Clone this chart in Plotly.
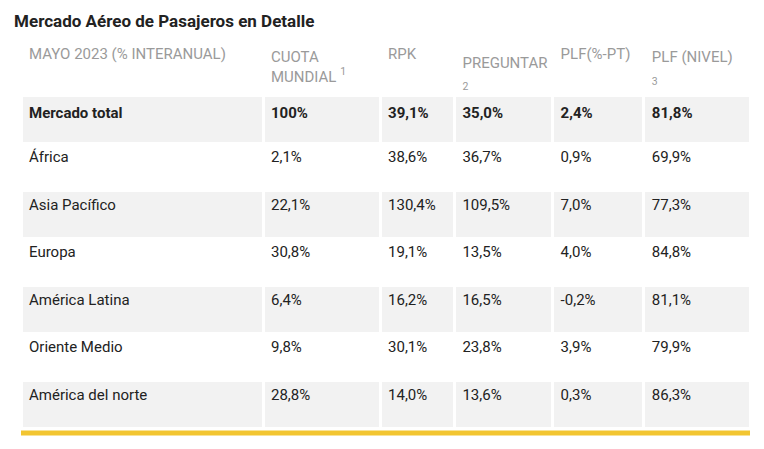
import plotly.graph_objects as go

headers = ["MAYO 2023 (% INTERANUAL)", "CUOTA<br>MUNDIAL <sup>1</sup>", "RPK",
           "PREGUNTAR <sub>2</sub>", "PLF(%-PT)", "PLF (NIVEL)<br><sub>3</sub>"]
regions = ["Mercado total", "África", "Asia Pacífico", "Europa", "América Latina",
           "Oriente Medio", "América del norte"]
cuota = ["100%", "2,1%", "22,1%", "30,8%", "6,4%", "9,8%", "28,8%"]
rpk = ["39,1%", "38,6%", "130,4%", "19,1%", "16,2%", "30,1%", "14,0%"]
ask = ["35,0%", "36,7%", "109,5%", "13,5%", "16,5%", "23,8%", "13,6%"]
plf_pt = ["2,4%", "0,9%", "7,0%", "4,0%", "-0,2%", "3,9%", "0,3%"]
plf_lvl = ["81,8%", "69,9%", "77,3%", "84,8%", "81,1%", "79,9%", "86,3%"]

cols = [regions, cuota, rpk, ask, plf_pt, plf_lvl]
cols = [[f"<b>{c[0]}</b>"] + c[1:] for c in cols]
row_fill = ["#f2f2f2" if i % 2 == 0 else "white" for i in range(len(regions))]

fig = go.Figure(go.Table(
    columnwidth=[244, 118, 75, 99, 92, 107],
    header=dict(values=headers, fill_color="white", line_color="white",
                align="left", height=28,
                font=dict(family="Roboto, Arial", size=15, color="#9a9a9a")),
    cells=dict(values=cols, fill_color=[row_fill] * 6, line=dict(color="white", width=3),
               align="left", height=47.5,
               font=dict(family="Roboto, Arial", size=15, color="#222"))
))
fig.add_shape(type="line", xref="paper", yref="paper", x0=0, x1=1, y0=0.0, y1=0.0,
              line=dict(color="#f2c531", width=5))
fig.update_layout(
    width=764, height=449, margin=dict(l=13, r=22, t=32, b=24),
    paper_bgcolor="white",
    title=dict(text="<b>Mercado Aéreo de Pasajeros en Detalle</b>", x=0.008, xanchor="left",
               y=0.985, yanchor="top", font=dict(family="Roboto, Arial", size=17, color="#222")),
)
fig.write_html("out.html")
